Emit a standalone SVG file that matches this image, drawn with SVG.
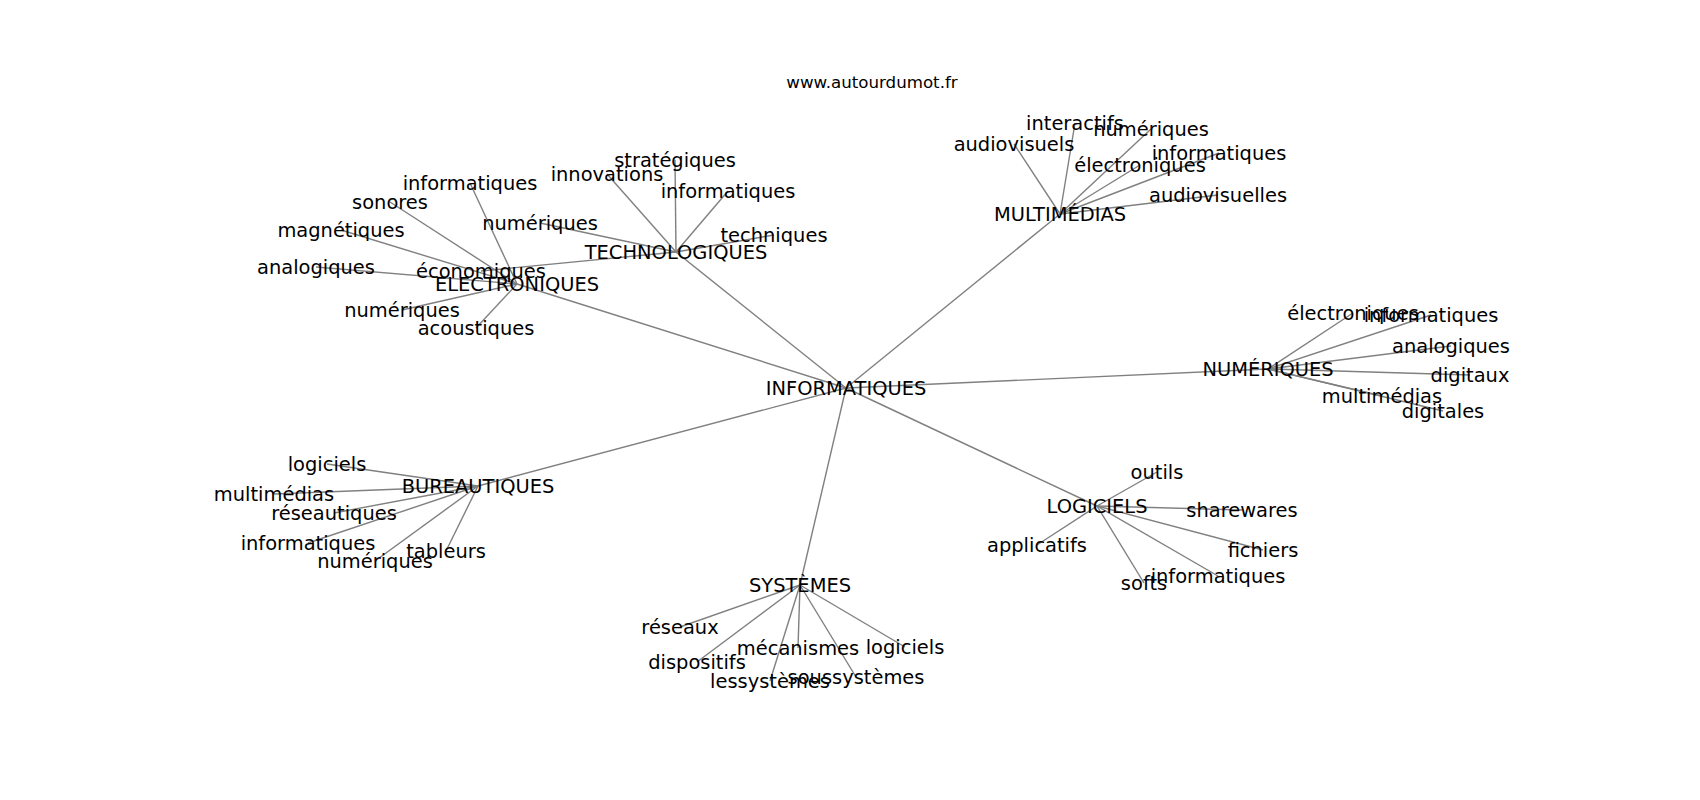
<svg xmlns="http://www.w3.org/2000/svg" width="1700" height="800" viewBox="0 0 1700 800">
<style>
text{font-family:"DejaVu Sans",sans-serif;font-size:19.44px;fill:#000;text-anchor:middle}
.title{font-size:16.67px}
#edges line{stroke:#808080;stroke-width:1.4}
</style>
<rect width="1700" height="800" fill="#fff"/>
<text class="title" x="872" y="88">www.autourdumot.fr</text>
<g id="edges">
<line x1="846" y1="388" x2="517" y2="284"/>
<line x1="846" y1="388" x2="676" y2="252"/>
<line x1="846" y1="388" x2="1060" y2="214"/>
<line x1="846" y1="388" x2="1268" y2="369"/>
<line x1="846" y1="388" x2="1097" y2="506"/>
<line x1="846" y1="388" x2="800" y2="585"/>
<line x1="846" y1="388" x2="478" y2="486"/>
<line x1="517" y1="284" x2="470" y2="183"/>
<line x1="517" y1="284" x2="390" y2="202"/>
<line x1="517" y1="284" x2="341" y2="230"/>
<line x1="517" y1="284" x2="316" y2="267"/>
<line x1="517" y1="284" x2="402" y2="310"/>
<line x1="517" y1="284" x2="476" y2="328"/>
<line x1="676" y1="252" x2="607" y2="174"/>
<line x1="676" y1="252" x2="675" y2="160"/>
<line x1="676" y1="252" x2="728" y2="191"/>
<line x1="676" y1="252" x2="774" y2="235"/>
<line x1="676" y1="252" x2="540" y2="223"/>
<line x1="676" y1="252" x2="481" y2="271"/>
<line x1="1060" y1="214" x2="1014" y2="144"/>
<line x1="1060" y1="214" x2="1075" y2="123"/>
<line x1="1060" y1="214" x2="1151" y2="129"/>
<line x1="1060" y1="214" x2="1219" y2="153"/>
<line x1="1060" y1="214" x2="1140" y2="165"/>
<line x1="1060" y1="214" x2="1218" y2="195"/>
<line x1="1268" y1="369" x2="1353" y2="313"/>
<line x1="1268" y1="369" x2="1431" y2="315"/>
<line x1="1268" y1="369" x2="1451" y2="346"/>
<line x1="1268" y1="369" x2="1470" y2="375"/>
<line x1="1268" y1="369" x2="1382" y2="396"/>
<line x1="1268" y1="369" x2="1443" y2="411"/>
<line x1="1097" y1="506" x2="1157" y2="472"/>
<line x1="1097" y1="506" x2="1242" y2="510"/>
<line x1="1097" y1="506" x2="1037" y2="545"/>
<line x1="1097" y1="506" x2="1263" y2="550"/>
<line x1="1097" y1="506" x2="1218" y2="576"/>
<line x1="1097" y1="506" x2="1144" y2="583"/>
<line x1="800" y1="585" x2="680" y2="627"/>
<line x1="800" y1="585" x2="697" y2="662"/>
<line x1="800" y1="585" x2="798" y2="648"/>
<line x1="800" y1="585" x2="905" y2="647"/>
<line x1="800" y1="585" x2="770" y2="681"/>
<line x1="800" y1="585" x2="856" y2="677"/>
<line x1="478" y1="486" x2="327" y2="464"/>
<line x1="478" y1="486" x2="274" y2="494"/>
<line x1="478" y1="486" x2="334" y2="513"/>
<line x1="478" y1="486" x2="308" y2="543"/>
<line x1="478" y1="486" x2="375" y2="561"/>
<line x1="478" y1="486" x2="446" y2="551"/>
</g>
<g id="n-informatiques"><text x="846" y="395">INFORMATIQUES</text></g>
<g id="n-electroniques"><text x="517" y="291">ELECTRONIQUES</text></g>
<g id="n-electroniques-informatiques"><text x="470" y="190">informatiques</text></g>
<g id="n-electroniques-sonores"><text x="390" y="209">sonores</text></g>
<g id="n-electroniques-magnetiques"><text x="341" y="237">magnétiques</text></g>
<g id="n-electroniques-analogiques"><text x="316" y="274">analogiques</text></g>
<g id="n-electroniques-numeriques"><text x="402" y="317">numériques</text></g>
<g id="n-electroniques-acoustiques"><text x="476" y="335">acoustiques</text></g>
<g id="n-technologiques"><text x="676" y="259">TECHNOLOGIQUES</text></g>
<g id="n-tech-innovations"><text x="607" y="181">innovations</text></g>
<g id="n-tech-strategiques"><text x="675" y="167">stratégiques</text></g>
<g id="n-tech-informatiques"><text x="728" y="198">informatiques</text></g>
<g id="n-tech-techniques"><text x="774" y="242">techniques</text></g>
<g id="n-tech-numeriques"><text x="540" y="230">numériques</text></g>
<g id="n-tech-economiques"><text x="481" y="278">économiques</text></g>
<g id="n-multimedias"><text x="1060" y="221">MULTIMÉDIAS</text></g>
<g id="n-multi-audiovisuels"><text x="1014" y="151">audiovisuels</text></g>
<g id="n-multi-interactifs"><text x="1075" y="130">interactifs</text></g>
<g id="n-multi-numeriques"><text x="1151" y="136">numériques</text></g>
<g id="n-multi-informatiques"><text x="1219" y="160">informatiques</text></g>
<g id="n-multi-electroniques"><text x="1140" y="172">électroniques</text></g>
<g id="n-multi-audiovisuelles"><text x="1218" y="202">audiovisuelles</text></g>
<g id="n-numeriques"><text x="1268" y="376">NUMÉRIQUES</text></g>
<g id="n-num-electroniques"><text x="1353" y="320">électroniques</text></g>
<g id="n-num-informatiques"><text x="1431" y="322">informatiques</text></g>
<g id="n-num-analogiques"><text x="1451" y="353">analogiques</text></g>
<g id="n-num-digitaux"><text x="1470" y="382">digitaux</text></g>
<g id="n-num-multimedias"><text x="1382" y="403">multimédias</text></g>
<g id="n-num-digitales"><text x="1443" y="418">digitales</text></g>
<g id="n-logiciels"><text x="1097" y="513">LOGICIELS</text></g>
<g id="n-log-outils"><text x="1157" y="479">outils</text></g>
<g id="n-log-sharewares"><text x="1242" y="517">sharewares</text></g>
<g id="n-log-applicatifs"><text x="1037" y="552">applicatifs</text></g>
<g id="n-log-fichiers"><text x="1263" y="557">fichiers</text></g>
<g id="n-log-informatiques"><text x="1218" y="583">informatiques</text></g>
<g id="n-log-softs"><text x="1144" y="590">softs</text></g>
<g id="n-systemes"><text x="800" y="592">SYSTÈMES</text></g>
<g id="n-sys-reseaux"><text x="680" y="634">réseaux</text></g>
<g id="n-sys-dispositifs"><text x="697" y="669">dispositifs</text></g>
<g id="n-sys-mecanismes"><text x="798" y="655">mécanismes</text></g>
<g id="n-sys-logiciels"><text x="905" y="654">logiciels</text></g>
<g id="n-sys-lessystemes"><text x="770" y="688">lessystèmes</text></g>
<g id="n-sys-soussystemes"><text x="856" y="684">soussystèmes</text></g>
<g id="n-bureautiques"><text x="478" y="493">BUREAUTIQUES</text></g>
<g id="n-bur-logiciels"><text x="327" y="471">logiciels</text></g>
<g id="n-bur-multimedias"><text x="274" y="501">multimédias</text></g>
<g id="n-bur-reseautiques"><text x="334" y="520">réseautiques</text></g>
<g id="n-bur-informatiques"><text x="308" y="550">informatiques</text></g>
<g id="n-bur-numeriques"><text x="375" y="568">numériques</text></g>
<g id="n-bur-tableurs"><text x="446" y="558">tableurs</text></g>
</svg>
